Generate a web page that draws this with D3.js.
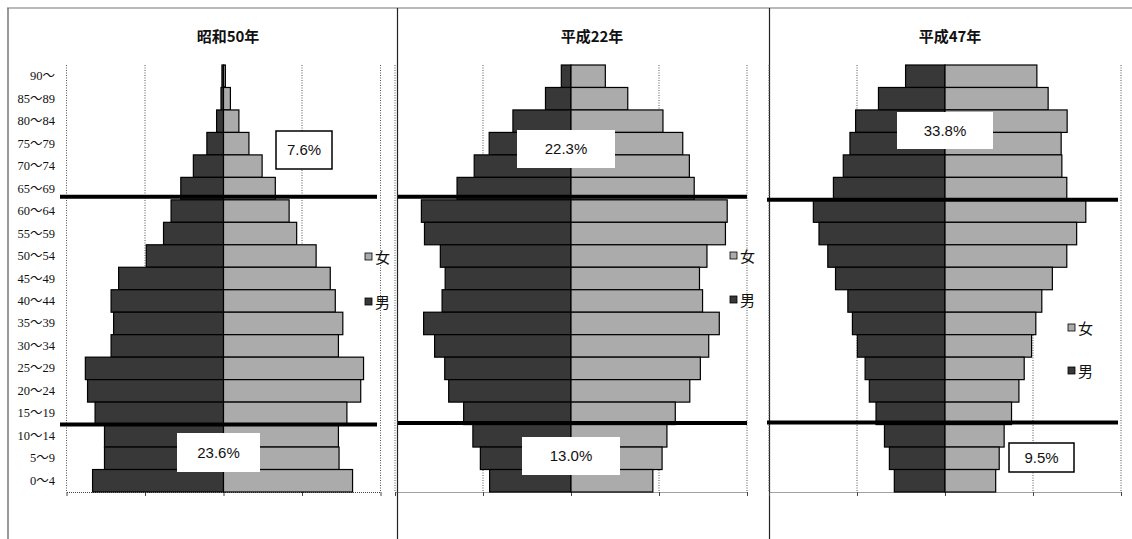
<!DOCTYPE html>
<html><head><meta charset="utf-8">
<script src="https://cdn.jsdelivr.net/npm/d3@7/dist/d3.min.js"></script>
<style>
html,body{margin:0;padding:0;background:#fff;}
svg{display:block;}
</style></head>
<body>
<svg id="chart" width="1132" height="539"></svg>
<script>
// ---- data ----
const ageGroups = ["90～","85～89","80～84","75～79","70～74","65～69","60～64","55～59","50～54","45～49","40～44","35～39","30～34","25～29","20～24","15～19","10～14","5～9","0～4"];
const panelTitles = ["昭和50年","平成22年","平成47年"];
// percent of total population, top (90～) to bottom (0～4)
const maleS50   = [0.05,0.08,0.22,0.53,0.96,1.36,1.67,1.91,2.46,3.34,3.58,3.50,3.58,4.40,4.33,4.09,3.79,3.79,4.17];
const femaleS50 = [0.06,0.22,0.49,0.81,1.23,1.65,2.09,2.33,2.95,3.40,3.56,3.80,3.66,4.46,4.37,3.93,3.66,3.68,4.11];
const maleH22   = [0.22,0.58,1.32,1.86,2.20,2.59,3.40,3.33,2.97,2.86,2.93,3.35,3.10,2.87,2.78,2.44,2.23,2.06,1.85];
const femaleH22 = [0.78,1.29,2.09,2.54,2.69,2.80,3.55,3.51,3.09,2.92,2.99,3.37,3.13,2.94,2.70,2.37,2.18,2.07,1.86];
const maleH47   = [1.12,1.89,2.54,2.70,2.89,3.17,3.74,3.58,3.33,3.11,2.76,2.63,2.49,2.27,2.15,1.96,1.72,1.58,1.44];
const femaleH47 = [2.61,2.93,3.47,3.30,3.32,3.46,4.00,3.74,3.46,3.05,2.75,2.58,2.46,2.25,2.10,1.89,1.68,1.54,1.44];
const axisMax = [5, 4, 5];
const elderlyShare = ["7.6%","22.3%","33.8%"];
const childShare   = ["23.6%","13.0%","9.5%"];
const legendLabels = ["女","男"];

// ---- layout / style ----
const maleColor = "#383838", femaleColor = "#ababab";
const svg = d3.select("#chart");
const plotTop = 65, plotBottom = 492;

const layouts = [
  {x0:66.5, x1:380.5, titleX:228, lineX:[60,377], lineOff:[-3,0], legX:365, legY:[257,302],
   eBox:[276,131,56,38,true], cBox:[177,433,83,39,false], showY:true},
  {x0:395, x1:747, titleX:592, lineX:[398,747], lineOff:[-3,-1.5], legX:730, legY:[256,300],
   eBox:[517,130,98,38,false], cBox:[522,437,98,38,false], showY:false},
  {x0:769, x1:1121, titleX:950, lineX:[767,1118], lineOff:[0,-2], legX:1068, legY:[328,371],
   eBox:[897,112,96,37,false], cBox:[1009,443,65,29,true], showY:false}
];
const males = [maleS50, maleH22, maleH47];
const females = [femaleS50, femaleH22, femaleH47];

// frame
svg.append("line").attr("x1",7).attr("x2",1132).attr("y1",8).attr("y2",8).attr("stroke","#777").attr("stroke-width",1.2);
svg.append("line").attr("x1",8).attr("x2",8).attr("y1",8).attr("y2",539).attr("stroke","#777").attr("stroke-width",1.5);
[397.5, 769.5].forEach(x=>svg.append("line").attr("x1",x).attr("x2",x).attr("y1",8).attr("y2",539).attr("stroke","#222").attr("stroke-width",1.2));

const y = d3.scaleBand().domain(ageGroups).range([plotTop, plotBottom]).padding(0);

layouts.forEach((L, i) => {
  const g = svg.append("g");
  const m = axisMax[i];
  const x = d3.scaleLinear().domain([-m, m]).range([L.x0, L.x1]);
  const ticks = [-m, -m/2, 0, m/2, m];

  // gridlines
  g.selectAll(".grid").data(ticks).enter().append("line")
    .attr("x1",d=>x(d)).attr("x2",d=>x(d)).attr("y1",plotTop).attr("y2",plotBottom)
    .attr("stroke","#555").attr("stroke-width",1).attr("stroke-dasharray","1,1.5");

  // bottom axis
  const ax = d3.axisBottom(x).tickValues(ticks).tickFormat("").tickSize(4).tickSizeOuter(0);
  const axg = g.append("g").attr("transform",`translate(0,${plotBottom})`).call(ax);
  axg.select(".domain").attr("stroke","#444").attr("stroke-dasharray","1,1");
  axg.selectAll(".tick line").attr("stroke","#444");

  // bars
  const rows = ageGroups.map((a,j)=>({age:a, male:males[i][j], female:females[i][j]}));
  g.selectAll(".male").data(rows).enter().append("rect")
    .attr("x",d=>x(-d.male)).attr("y",d=>y(d.age))
    .attr("width",d=>x(0)-x(-d.male)).attr("height",y.bandwidth())
    .attr("fill",maleColor).attr("stroke","#000").attr("stroke-width",1.2);
  g.selectAll(".female").data(rows).enter().append("rect")
    .attr("x",x(0)).attr("y",d=>y(d.age))
    .attr("width",d=>x(d.female)-x(0)).attr("height",y.bandwidth())
    .attr("fill",femaleColor).attr("stroke","#000").attr("stroke-width",1.2);

  // y labels
  if (L.showY) {
    const ya = d3.axisLeft(y).tickSize(0).tickPadding(0);
    const yg = g.append("g").attr("transform",`translate(55,0)`).call(ya);
    yg.select(".domain").remove();
    yg.selectAll("text").attr("font-family","'Liberation Serif','Noto Sans CJK JP',serif")
      .attr("font-size",12.5).attr("fill","#111");
  }

  // title
  g.append("text").attr("x",L.titleX).attr("y",42).attr("text-anchor","middle")
    .attr("font-family","'Noto Sans CJK JP',sans-serif").attr("font-weight","bold")
    .attr("font-size",15).attr("fill","#111").text(panelTitles[i]);

  // thick divider lines (65+ / under 15)
  const yTop = y("60～64") + L.lineOff[0];
  const yBot = y("10～14") + L.lineOff[1];
  [yTop, yBot].forEach(yy => g.append("line").attr("x1",L.lineX[0]).attr("x2",L.lineX[1])
    .attr("y1",yy).attr("y2",yy).attr("stroke","#000").attr("stroke-width",4));

  // share boxes
  [[L.eBox, elderlyShare[i]], [L.cBox, childShare[i]]].forEach(([b, txt]) => {
    g.append("rect").attr("x",b[0]).attr("y",b[1]).attr("width",b[2]).attr("height",b[3])
      .attr("fill","#fff").attr("stroke", b[4] ? "#000" : "none").attr("stroke-width",1.5);
    g.append("text").attr("x",b[0]+b[2]/2).attr("y",b[1]+b[3]/2+5).attr("text-anchor","middle")
      .attr("font-family","'Liberation Sans',sans-serif").attr("font-size",15)
      .attr("fill","#111").text(txt);
  });

  // legend
  legendLabels.forEach((lab, k) => {
    const yy = L.legY[k];
    g.append("rect").attr("x",L.legX).attr("y",yy-4).attr("width",7).attr("height",7)
      .attr("fill", k===0 ? femaleColor : maleColor).attr("stroke","#000").attr("stroke-width",0.8);
    g.append("text").attr("x",L.legX+10).attr("y",yy+5.5)
      .attr("font-family","'Noto Sans CJK JP',sans-serif").attr("font-size",15)
      .attr("fill","#111").text(lab);
  });
});
</script>
</body></html>
